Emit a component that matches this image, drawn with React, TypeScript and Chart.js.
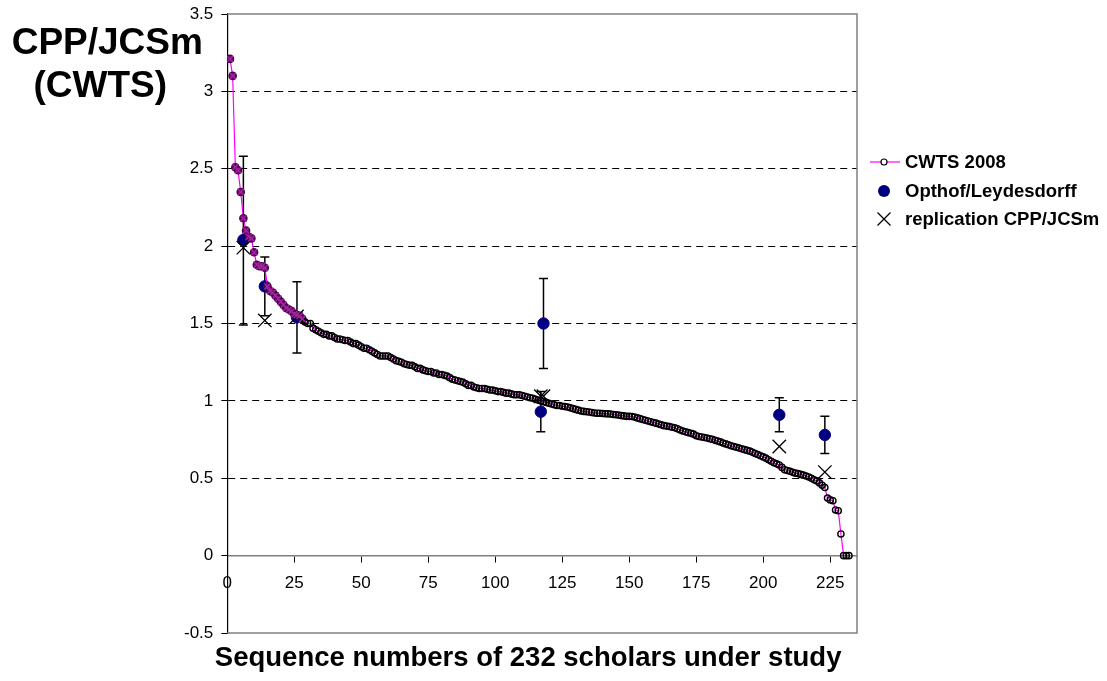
import React, { useEffect, useRef } from "react";
import { Chart, registerables } from "chart.js";

Chart.register(...registerables);

const FONT = "'Liberation Sans', Arial, Helvetica, sans-serif";

// CWTS 2008 values, sequence numbers 1..232
const CWTS_2008: number[] = [
  3.21, 3.10, 2.51, 2.49, 2.35, 2.18, 2.10, 2.06, 2.05, 1.96,
  1.88, 1.87, 1.87, 1.86, 1.74, 1.71, 1.70, 1.68, 1.66, 1.64,
  1.62, 1.60, 1.59, 1.58, 1.56, 1.555, 1.55, 1.53, 1.51, 1.50,
  1.50, 1.47, 1.46, 1.45, 1.44, 1.43, 1.43, 1.42, 1.42, 1.41,
  1.40, 1.40, 1.395, 1.39, 1.39, 1.38, 1.37, 1.37, 1.36, 1.35,
  1.34, 1.34, 1.33, 1.32, 1.31, 1.30, 1.29, 1.29, 1.29, 1.29,
  1.28, 1.27, 1.26, 1.255, 1.25, 1.24, 1.235, 1.23, 1.23, 1.22,
  1.21, 1.21, 1.20, 1.195, 1.19, 1.19, 1.18, 1.18, 1.17, 1.17,
  1.165, 1.16, 1.15, 1.14, 1.135, 1.13, 1.125, 1.12, 1.11, 1.10,
  1.10, 1.09, 1.085, 1.08, 1.08, 1.08, 1.075, 1.07, 1.07, 1.065,
  1.06, 1.06, 1.055, 1.05, 1.05, 1.045, 1.04, 1.04, 1.04, 1.035,
  1.03, 1.025, 1.02, 1.017, 1.01, 1.005, 1.00, 0.995, 0.99, 0.985,
  0.98, 0.975, 0.97, 0.97, 0.965, 0.963, 0.96, 0.955, 0.95, 0.945,
  0.94, 0.935, 0.932, 0.93, 0.928, 0.925, 0.922, 0.92, 0.92, 0.918,
  0.917, 0.916, 0.915, 0.912, 0.91, 0.908, 0.905, 0.903, 0.90, 0.90,
  0.899, 0.895, 0.89, 0.885, 0.88, 0.875, 0.87, 0.865, 0.86, 0.856,
  0.85, 0.845, 0.84, 0.837, 0.834, 0.83, 0.826, 0.82, 0.812, 0.805,
  0.80, 0.795, 0.79, 0.785, 0.775, 0.77, 0.767, 0.763, 0.76, 0.755,
  0.752, 0.745, 0.74, 0.735, 0.728, 0.722, 0.716, 0.71, 0.705, 0.70,
  0.695, 0.69, 0.685, 0.68, 0.675, 0.668, 0.66, 0.653, 0.645, 0.638,
  0.63, 0.62, 0.61, 0.60, 0.593, 0.586, 0.57, 0.555, 0.55, 0.545,
  0.538, 0.533, 0.53, 0.525, 0.52, 0.515, 0.508, 0.50, 0.49, 0.483,
  0.47, 0.455, 0.44, 0.372, 0.36, 0.355, 0.295, 0.29, 0.14, 0,
  0, 0,
];

// number of top-ranked scholars drawn highlighted (purple) in the original
const HIGHLIGHTED_COUNT = 28;

const OPTHOF_X = [6, 14, 26, 117, 118, 206, 223];
const OPTHOF_Y = [2.04, 1.74, 1.54, 0.93, 1.50, 0.91, 0.78];
const OPTHOF_LOW = [1.49, 1.55, 1.31, 0.80, 1.21, 0.80, 0.66];
const OPTHOF_HIGH = [2.58, 1.93, 1.77, 1.06, 1.79, 1.02, 0.90];

const REPLICATION_X = [6, 14, 26, 117, 118, 206, 223];
const REPLICATION_Y = [1.99, 1.52, 1.545, 1.03, 1.03, 0.705, 0.54];

const X_TICKS = [0, 25, 50, 75, 100, 125, 150, 175, 200, 225];
const Y_TICKS = [-0.5, 0, 0.5, 1, 1.5, 2, 2.5, 3, 3.5];

const LEGEND_LABELS = ["CWTS 2008", "Opthof/Leydesdorff", "replication CPP/JCSm"];
const Y_TITLE_LINES = ["CPP/JCSm", "(CWTS)"];
const X_TITLE = "Sequence numbers of 232 scholars under study";

const MAGENTA = "#FF00FF";
const NAVY = "#000080";
const PURPLE = "#800080";

const errorBarPlugin = {
  id: "errorBars",
  beforeDatasetsDraw(chart: any) {
    const { ctx, scales } = chart;
    const x = scales.x;
    const y = scales.y;
    ctx.save();
    ctx.strokeStyle = "#000";
    ctx.lineWidth = 1.5;
    OPTHOF_X.forEach((sx, i) => {
      const px = x.getPixelForValue(sx);
      const lo = y.getPixelForValue(OPTHOF_LOW[i]);
      const hi = y.getPixelForValue(OPTHOF_HIGH[i]);
      ctx.beginPath();
      ctx.moveTo(px, lo);
      ctx.lineTo(px, hi);
      ctx.moveTo(px - 4.5, lo);
      ctx.lineTo(px + 4.5, lo);
      ctx.moveTo(px - 4.5, hi);
      ctx.lineTo(px + 4.5, hi);
      ctx.stroke();
    });
    ctx.restore();
  },
};

const frameAndTextPlugin = {
  id: "frameAndText",
  beforeDatasetsDraw(chart: any) {
    const { ctx, chartArea } = chart;
    ctx.save();
    ctx.strokeStyle = "#808080";
    ctx.lineWidth = 1.5;
    ctx.beginPath();
    ctx.moveTo(chartArea.left, chartArea.top);
    ctx.lineTo(chartArea.right, chartArea.top);
    ctx.lineTo(chartArea.right, chartArea.bottom);
    ctx.lineTo(chartArea.left, chartArea.bottom);
    ctx.stroke();
    ctx.restore();
  },
  afterDraw(chart: any) {
    const { ctx, chartArea } = chart;
    ctx.save();
    ctx.fillStyle = "#000";
    // y-axis title (horizontal, top-left)
    ctx.font = `bold 37px ${FONT}`;
    ctx.textAlign = "center";
    ctx.textBaseline = "alphabetic";
    ctx.fillText(Y_TITLE_LINES[0], chartArea.left - 120, 54);
    ctx.fillText(Y_TITLE_LINES[1], chartArea.left - 127, 97);
    // x-axis title
    ctx.font = `bold 27.5px ${FONT}`;
    ctx.fillText(X_TITLE, (chartArea.left + chartArea.right) / 2 - 14, chartArea.bottom + 33);

    // legend
    const lx = chartArea.right + 13;
    const rows = [162, 191, 219];
    const markX = lx + 14;
    ctx.font = `bold 18.5px ${FONT}`;
    ctx.textAlign = "left";
    ctx.textBaseline = "middle";
    // row 1: line + small circle
    ctx.strokeStyle = MAGENTA;
    ctx.lineWidth = 1.2;
    ctx.beginPath();
    ctx.moveTo(lx, rows[0]);
    ctx.lineTo(lx + 30, rows[0]);
    ctx.stroke();
    ctx.beginPath();
    ctx.arc(markX, rows[0], 3, 0, Math.PI * 2);
    ctx.fillStyle = "#fff";
    ctx.fill();
    ctx.strokeStyle = "#000";
    ctx.lineWidth = 1.2;
    ctx.stroke();
    // row 2: navy dot
    ctx.beginPath();
    ctx.arc(markX, rows[1], 6, 0, Math.PI * 2);
    ctx.fillStyle = NAVY;
    ctx.fill();
    // row 3: cross
    ctx.strokeStyle = "#000";
    ctx.lineWidth = 1.3;
    ctx.beginPath();
    ctx.moveTo(markX - 6.5, rows[2] - 6.5);
    ctx.lineTo(markX + 6.5, rows[2] + 6.5);
    ctx.moveTo(markX - 6.5, rows[2] + 6.5);
    ctx.lineTo(markX + 6.5, rows[2] - 6.5);
    ctx.stroke();
    ctx.fillStyle = "#000";
    LEGEND_LABELS.forEach((t, i) => ctx.fillText(t, lx + 35, rows[i] + 1));
    ctx.restore();
  },
};

export default function App() {
  const canvasRef = useRef<HTMLCanvasElement | null>(null);

  useEffect(() => {
    if (!canvasRef.current) return;
    Chart.defaults.font.family = FONT;

    const cwtsPoints = CWTS_2008.map((v, i) => ({ x: i + 1, y: v }));
    const highlighted = cwtsPoints.slice(0, HIGHLIGHTED_COUNT);

    const chart = new Chart(canvasRef.current, {
      type: "line",
      data: {
        datasets: [
          {
            label: "highlighted",
            data: highlighted,
            showLine: false,
            pointStyle: "crossRot",
            pointRadius: 4.5,
            pointBorderColor: "#9a2a9a",
            pointBorderWidth: 1.3,
            order: 0,
          },
          {
            label: LEGEND_LABELS[2],
            data: REPLICATION_X.map((x, i) => ({ x, y: REPLICATION_Y[i] })),
            showLine: false,
            pointStyle: "crossRot",
            pointRadius: 9.5,
            pointBorderColor: "#000",
            pointBorderWidth: 1.3,
            order: 1,
          },
          {
            label: LEGEND_LABELS[1],
            data: OPTHOF_X.map((x, i) => ({ x, y: OPTHOF_Y[i] })),
            showLine: false,
            pointStyle: "circle",
            pointRadius: 5.7,
            pointBackgroundColor: NAVY,
            pointBorderColor: NAVY,
            pointBorderWidth: 1,
            order: 3,
          },
          {
            label: LEGEND_LABELS[0],
            data: cwtsPoints,
            borderColor: MAGENTA,
            borderWidth: 1.2,
            tension: 0,
            pointStyle: "circle",
            pointRadius: (c: any) => (c.dataIndex < HIGHLIGHTED_COUNT ? 3.6 : 3.1),
            pointBorderWidth: 1.4,
            pointBorderColor: (c: any) => (c.dataIndex < HIGHLIGHTED_COUNT ? "#4a004a" : "#000"),
            pointBackgroundColor: (c: any) => (c.dataIndex < HIGHLIGHTED_COUNT ? PURPLE : "rgba(255,255,255,0)"),
            order: 2,
          },
        ],
      },
      options: {
        animation: false,
        responsive: true,
        maintainAspectRatio: false,
        layout: { padding: { left: 0, right: 250, top: 14, bottom: 48 } },
        plugins: {
          legend: { display: false },
          tooltip: { enabled: false },
          title: { display: false },
        },
        scales: {
          x: {
            type: "linear",
            min: 0,
            max: 235,
            position: { y: 0 } as any,
            afterBuildTicks: (s: any) => {
              s.ticks = X_TICKS.map((v) => ({ value: v }));
            },
            afterFit: (s: any) => {
              s.height = 0;
              s.paddingLeft = 0;
              s.paddingRight = 0;
            },
            grid: {
              drawOnChartArea: false,
              drawTicks: true,
              tickLength: 6,
              tickColor: "#000",
              tickWidth: 1,
            },
            border: { display: true, color: "#808080", width: 1.5 },
            ticks: {
              color: "#000",
              font: { family: FONT, size: 17 },
              padding: 11,
              maxRotation: 0,
              autoSkip: false,
              callback: (v: any) => String(v),
            },
          },
          y: {
            type: "linear",
            min: -0.5,
            max: 3.5,
            afterBuildTicks: (s: any) => {
              s.ticks = Y_TICKS.map((v) => ({ value: v }));
            },
            afterFit: (s: any) => {
              s.width = 227.3;
              s.paddingTop = 0;
              s.paddingBottom = 0;
            },
            grid: {
              drawOnChartArea: true,
              drawTicks: true,
              tickLength: 6,
              tickColor: "#000",
              tickWidth: 1,
              lineWidth: 1,
              color: (c: any) =>
                c.tick && c.tick.value > 0.01 && c.tick.value < 3.49 ? "#000" : "rgba(0,0,0,0)",
            },
            border: { display: true, color: "#000", width: 1.2, dash: [7, 5] },
            ticks: {
              color: "#000",
              font: { family: FONT, size: 17 },
              padding: 8,
              callback: (v: any) => String(v),
            },
          },
        },
      },
      plugins: [errorBarPlugin, frameAndTextPlugin],
    } as any);

    return () => chart.destroy();
  }, []);

  return (
    <div style={{ position: "absolute", left: 0, top: 0, width: 1107, height: 681, background: "#fff" }}>
      <canvas ref={canvasRef} />
    </div>
  );
}
